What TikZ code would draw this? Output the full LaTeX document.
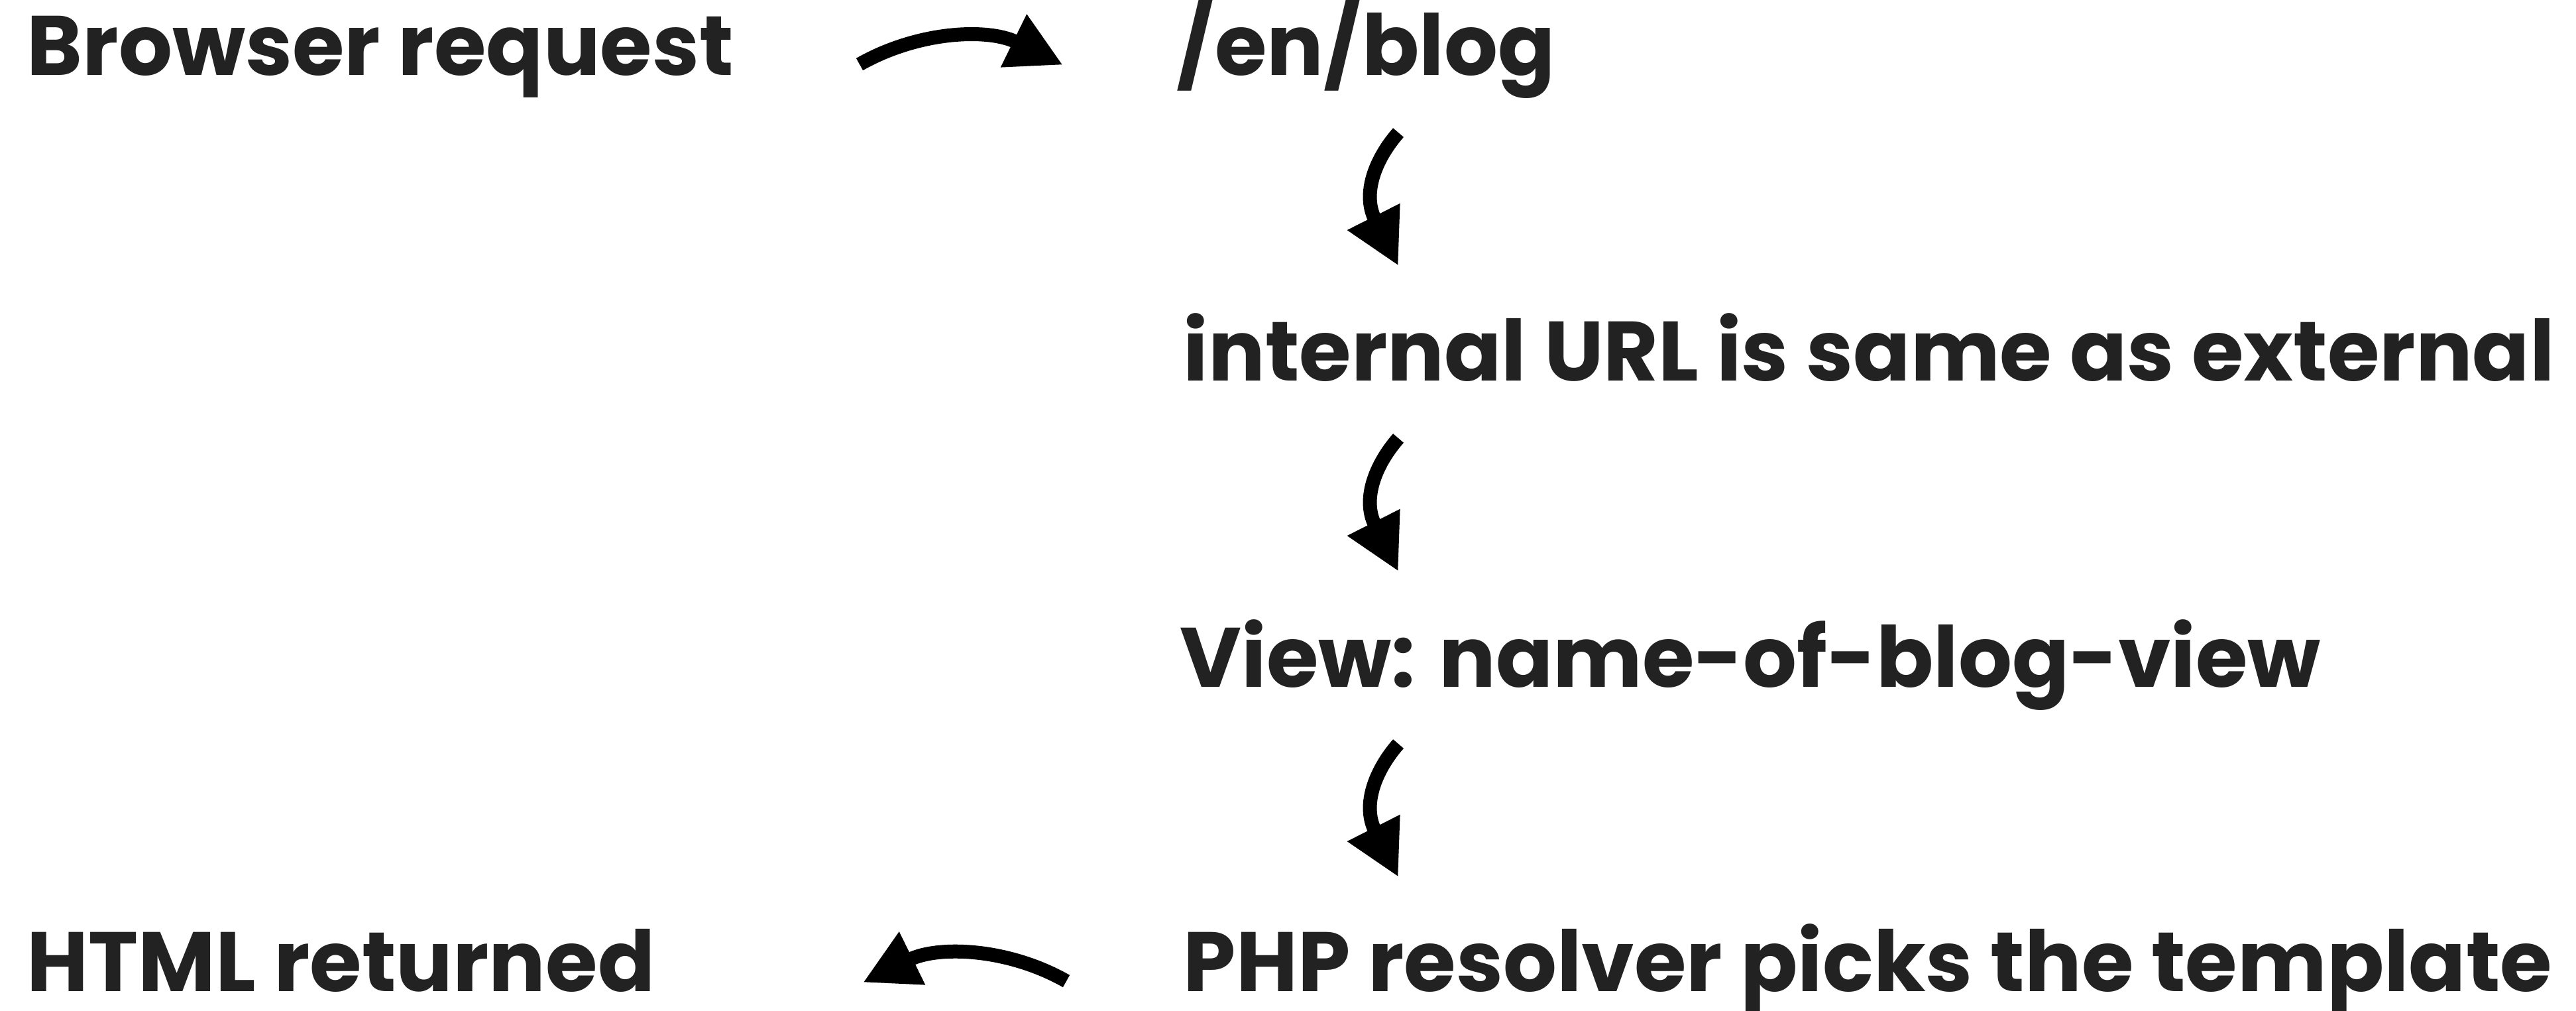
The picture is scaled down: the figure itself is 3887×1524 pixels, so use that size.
\documentclass[tikz,border=0pt]{standalone}
\usepackage{fontspec}
\newfontfamily\labelfont{Poppins}
\usetikzlibrary{arrows.meta}
\definecolor{textgray}{HTML}{222222}

\begin{document}
\begin{tikzpicture}[x=0.25pt,y=-0.25pt,
    lbl/.style={anchor=base west,inner sep=0pt,text=textgray,
      font=\labelfont\bfseries\fontsize{31.8}{38}\selectfont},
    curvearrow/.style={line width=5.25pt,
      -{Triangle[length=20.75pt,width=20.75pt]}}]
  \useasboundingbox (0,0) rectangle (3887,1524);

  % Labels
  \node[lbl] (request) at (40,113) {Browser request};
  \node[lbl] (url) at (1775,113) {/en/blog};
  \node[lbl] (internal) at (1785,574) {internal URL is same as external};
  \node[lbl] (view) at (1780,1036) {View: name-of-blog-view};
  \node[lbl] (resolver) at (1785,1495) {PHP resolver picks the template};
  \node[lbl] (html) at (40,1495) {HTML returned};

  % Arrow ends
  \coordinate (a1) at (1297,97);   \coordinate (b1) at (1604,98);
  \coordinate (a2) at (2110,200);  \coordinate (b2) at (2110,401);
  \coordinate (a3) at (2110,661);  \coordinate (b3) at (2110,862);
  \coordinate (a4) at (2110,1122); \coordinate (b4) at (2110,1323);
  \coordinate (a5) at (1609,1480); \coordinate (b5) at (1302,1482);

  \draw[curvearrow] (a1) .. controls +(88,-50) and +(-114,-56) .. (b1);
  \draw[curvearrow] (a2) .. controls +(-35,40) and +(-55,-109) .. (b2);
  \draw[curvearrow] (a3) .. controls +(-35,40) and +(-55,-109) .. (b3);
  \draw[curvearrow] (a4) .. controls +(-35,40) and +(-55,-109) .. (b4);
  \draw[curvearrow] (a5) .. controls +(-88,-50) and +(114,-56) .. (b5);
\end{tikzpicture}
\end{document}
